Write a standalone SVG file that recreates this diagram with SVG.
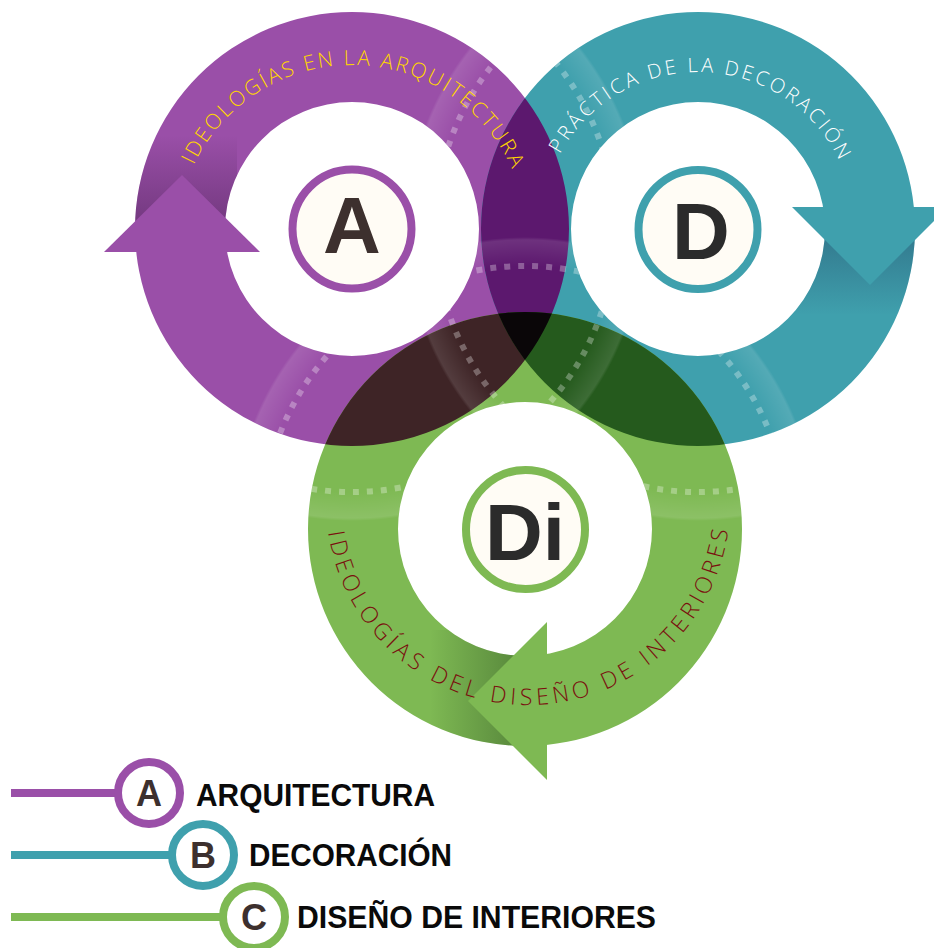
<svg xmlns="http://www.w3.org/2000/svg" width="934" height="948" viewBox="0 0 934 948">
<style>
.purple{fill:#9a4fa8}
.teal{fill:#3fa0ad}
.green{fill:#7eb953}
.dots{fill:none;stroke:#ffffff;stroke-opacity:0.3;stroke-width:6;stroke-dasharray:6 8}
.badge{fill:#fffcf5;stroke-width:8}
.big{font-family:"Liberation Sans",Arial,sans-serif;font-weight:bold;font-size:80px;text-anchor:middle}
.arc{font-family:"Open Sans","Liberation Sans",sans-serif;font-weight:300}
.leg{font-family:"Liberation Sans",Arial,sans-serif;font-weight:bold;font-size:31px;fill:#0a0a0a}
.legl{font-family:"Liberation Sans",Arial,sans-serif;font-weight:bold;font-size:36px;fill:#3d302e;text-anchor:middle}
.legc{fill:#ffffff;stroke-width:8}
.line{stroke-width:8;fill:none}
</style>
<defs>
<path id="ringA" d="M135,229a217,217 0 1 0 434,0a217,217 0 1 0 -434,0Z M225,229a127,127 0 1 0 254,0a127,127 0 1 0 -254,0Z" fill-rule="evenodd"/>
<path id="ringD" d="M481,229a217,217 0 1 0 434,0a217,217 0 1 0 -434,0Z M571,229a127,127 0 1 0 254,0a127,127 0 1 0 -254,0Z" fill-rule="evenodd"/>
<path id="ringDi" d="M308,529a217,217 0 1 0 434,0a217,217 0 1 0 -434,0Z M398,529a127,127 0 1 0 254,0a127,127 0 1 0 -254,0Z" fill-rule="evenodd"/>
<clipPath id="cA"><path d="M135,229a217,217 0 1 0 434,0a217,217 0 1 0 -434,0Z M225,229a127,127 0 1 0 254,0a127,127 0 1 0 -254,0Z" clip-rule="evenodd"/></clipPath>
<clipPath id="cD"><path d="M481,229a217,217 0 1 0 434,0a217,217 0 1 0 -434,0Z M571,229a127,127 0 1 0 254,0a127,127 0 1 0 -254,0Z" clip-rule="evenodd"/></clipPath>
<clipPath id="cDi"><path d="M308,529a217,217 0 1 0 434,0a217,217 0 1 0 -434,0Z M398,529a127,127 0 1 0 254,0a127,127 0 1 0 -254,0Z" clip-rule="evenodd"/></clipPath>
<clipPath id="cAll">
<path d="M135,229a217,217 0 1 0 434,0a217,217 0 1 0 -434,0Z M225,229a127,127 0 1 0 254,0a127,127 0 1 0 -254,0Z" clip-rule="evenodd"/>
<path d="M481,229a217,217 0 1 0 434,0a217,217 0 1 0 -434,0Z M571,229a127,127 0 1 0 254,0a127,127 0 1 0 -254,0Z" clip-rule="evenodd"/>
<path d="M308,529a217,217 0 1 0 434,0a217,217 0 1 0 -434,0Z M398,529a127,127 0 1 0 254,0a127,127 0 1 0 -254,0Z" clip-rule="evenodd"/>
</clipPath>
<radialGradient id="bA" gradientUnits="userSpaceOnUse" cx="352" cy="229" r="292"><stop offset="0.9" stop-color="#fff" stop-opacity="0"/><stop offset="0.99" stop-color="#fff" stop-opacity="0.11"/><stop offset="1" stop-color="#fff" stop-opacity="0"/></radialGradient>
<radialGradient id="bD" gradientUnits="userSpaceOnUse" cx="698" cy="229" r="292"><stop offset="0.9" stop-color="#fff" stop-opacity="0"/><stop offset="0.99" stop-color="#fff" stop-opacity="0.11"/><stop offset="1" stop-color="#fff" stop-opacity="0"/></radialGradient>
<radialGradient id="bDi" gradientUnits="userSpaceOnUse" cx="525" cy="529" r="292"><stop offset="0.9" stop-color="#fff" stop-opacity="0"/><stop offset="0.99" stop-color="#fff" stop-opacity="0.11"/><stop offset="1" stop-color="#fff" stop-opacity="0"/></radialGradient>
<linearGradient id="shA" gradientUnits="userSpaceOnUse" x1="0" y1="135" x2="0" y2="252"><stop offset="0" stop-color="#1a0622" stop-opacity="0"/><stop offset="1" stop-color="#1a0622" stop-opacity="0.4"/></linearGradient>
<linearGradient id="shD" gradientUnits="userSpaceOnUse" x1="0" y1="207" x2="0" y2="315"><stop offset="0" stop-color="#1a2a50" stop-opacity="0.45"/><stop offset="1" stop-color="#1a2a50" stop-opacity="0"/></linearGradient>
<linearGradient id="shDi" gradientUnits="userSpaceOnUse" x1="430" y1="0" x2="547" y2="0"><stop offset="0" stop-color="#0f2a10" stop-opacity="0"/><stop offset="1" stop-color="#0f2a10" stop-opacity="0.45"/></linearGradient>
<path id="tpA" d="M193.8,165.2 A175,175 0 0 1 524.3,209.6"/>
<path id="tpD" d="M560,154.1 A157,157 0 0 1 852.6,201.7"/>
<path id="tpDi" d="M328.1,532 A202,202 0 0 0 729.9,510"/>
</defs>

<g id="node-a-ring">
<use href="#ringA" class="purple"/>
<rect x="125" y="120" width="112" height="132" fill="url(#shA)" clip-path="url(#cA)"/>
<polygon points="104,252 260,252 182,175" class="purple"/>
</g>
<g id="node-d-ring">
<use href="#ringD" class="teal"/>
<rect x="775" y="207" width="150" height="113" fill="url(#shD)" clip-path="url(#cD)"/>
<polygon points="792,207 948,207 870,285" class="teal"/>
</g>
<g id="node-di-ring">
<use href="#ringDi" class="green"/>
<rect x="420" y="630" width="127" height="135" fill="url(#shDi)" clip-path="url(#cDi)"/>
<polygon points="547,622 547,780 468,701" class="green"/>
</g>

<g id="overlaps">
<use href="#ringD" fill="#5c186e" clip-path="url(#cA)"/>
<use href="#ringDi" fill="#3e2426" clip-path="url(#cA)"/>
<use href="#ringDi" fill="#255a1d" clip-path="url(#cD)"/>
<g clip-path="url(#cA)"><use href="#ringDi" fill="#0a0608" clip-path="url(#cD)"/></g>
</g>

<g id="seams" clip-path="url(#cAll)">
<path d="M60,229a292,292 0 1 0 584,0a292,292 0 1 0 -584,0Z M89,229a263,263 0 1 0 526,0a263,263 0 1 0 -526,0Z" fill-rule="evenodd" fill="url(#bA)"/>
<path d="M406,229a292,292 0 1 0 584,0a292,292 0 1 0 -584,0Z M435,229a263,263 0 1 0 526,0a263,263 0 1 0 -526,0Z" fill-rule="evenodd" fill="url(#bD)"/>
<path d="M233,529a292,292 0 1 0 584,0a292,292 0 1 0 -584,0Z M262,529a263,263 0 1 0 526,0a263,263 0 1 0 -526,0Z" fill-rule="evenodd" fill="url(#bDi)"/>
<circle cx="352" cy="229" r="263" class="dots"/>
<circle cx="698" cy="229" r="263" class="dots"/>
<circle cx="525" cy="529" r="263" class="dots"/>
</g>

<g id="node-a">
<circle cx="352" cy="229" r="59.5" class="badge" stroke="#9a4fa8"/>
<text x="352" y="253" class="big" fill="#3d302e">A</text>
<text class="arc" font-size="21" fill="#ffd500"><textPath href="#tpA" textLength="399" lengthAdjust="spacing">IDEOLOGÍAS EN LA ARQUITECTURA</textPath></text>
</g>
<g id="node-d">
<circle cx="698" cy="229.5" r="59.5" class="badge" stroke="#3fa0ad"/>
<text x="701" y="259" class="big" fill="#2b2b2b">D</text>
<text class="arc" font-size="20" fill="#ffffff"><textPath href="#tpD" textLength="344" lengthAdjust="spacing">PRÁCTICA DE LA DECORACIÓN</textPath></text>
</g>
<g id="node-di">
<circle cx="525.5" cy="529.5" r="59.5" class="badge" stroke="#7eb953"/>
<text x="525" y="560" class="big" fill="#2b2b2b">Di</text>
<text class="arc" font-size="23" fill="#7a0f0f"><textPath href="#tpDi" textLength="578" lengthAdjust="spacing">IDEOLOGÍAS DEL DISEÑO DE INTERIORES</textPath></text>
</g>

<g id="connectors">
<line x1="11" y1="793" x2="120" y2="793" class="line" stroke="#9a4fa8"/>
<line x1="11" y1="855" x2="174" y2="855" class="line" stroke="#3fa0ad"/>
<line x1="11" y1="917" x2="225" y2="917" class="line" stroke="#7eb953"/>
</g>

<g id="legend-a">
<circle cx="149" cy="793" r="31" class="legc" stroke="#9a4fa8"/>
<text x="149" y="806" class="legl">A</text>
<text x="196" y="806" class="leg" textLength="239" lengthAdjust="spacingAndGlyphs">ARQUITECTURA</text>
</g>
<g id="legend-b">
<circle cx="203" cy="855" r="31" class="legc" stroke="#3fa0ad"/>
<text x="203" y="868" class="legl">B</text>
<text x="249" y="866" class="leg" textLength="203" lengthAdjust="spacingAndGlyphs">DECORACIÓN</text>
</g>
<g id="legend-c">
<circle cx="254" cy="917" r="31" class="legc" stroke="#7eb953"/>
<text x="254" y="930" class="legl">C</text>
<text x="297" y="928" class="leg" textLength="359" lengthAdjust="spacingAndGlyphs">DISEÑO DE INTERIORES</text>
</g>
</svg>
